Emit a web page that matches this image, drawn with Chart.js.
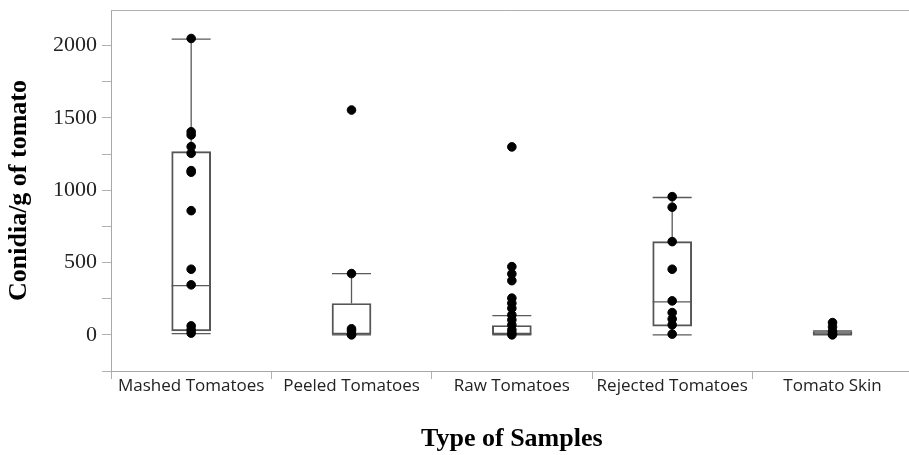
<!DOCTYPE html>
<html>
<head>
<meta charset="utf-8">
<script src="https://cdn.jsdelivr.net/npm/chart.js@4.4.1/dist/chart.umd.min.js"></script>
<style>
  html, body { margin: 0; padding: 0; background: #fff; overflow: hidden; }
  #wrap { width: 918px; height: 455px; }
</style>
</head>
<body>
<div id="wrap"><canvas id="boxChart"></canvas></div>
<script>
// categories and box summaries
const categories = ["Mashed Tomatoes", "Peeled Tomatoes", "Raw Tomatoes", "Rejected Tomatoes", "Tomato Skin"];
const whiskerLow  = [9, 0, 0, 0, 0];
const quartile1   = [28, 0, 0, 60, 0];
const medians     = [341, 0, 8, 228, 4];
const quartile3   = [1267, 217, 65, 645, 23];
const whiskerHigh = [2045, 424, 133, 950, 28];

// individual samples
const mashedPoints   = [2050, 1405, 1383, 1302, 1256, 1136, 1125, 859, 454, 346, 62, 35, 12];
const peeledPoints   = [1555, 424, 42, 28, 5, 0];
const rawPoints      = [1300, 472, 422, 375, 254, 219, 184, 138, 104, 69, 35, 12, 0];
const rejectedPoints = [956, 883, 645, 454, 235, 154, 110, 69, 5];
const skinPoints     = [85, 55, 25, 5, 0];

// axis ticks
const yTickValues = [-250, 0, 250, 500, 750, 1000, 1250, 1500, 1750, 2000];
const yTickLabels = [0, 500, 1000, 1500, 2000];

const pointGroups = [mashedPoints, peeledPoints, rawPoints, rejectedPoints, skinPoints];
const scatterData = [];
pointGroups.forEach((group, i) => {
    group.forEach(v => scatterData.push({ x: categories[i], y: v }));
});

const boxRanges = categories.map((c, i) => [quartile1[i], quartile3[i]]);

const whiskerPlugin = {
    id: "whiskers",
    beforeDatasetsDraw(chart) {
        const ctx = chart.ctx;
        const y = chart.scales.y;
        const meta = chart.getDatasetMeta(0);
        ctx.save();
        ctx.strokeStyle = "#5a5a5a";
        ctx.lineWidth = 1.3;
        meta.data.forEach((bar, i) => {
            const cx = bar.x;
            const half = bar.width / 2;
            const yLow = y.getPixelForValue(whiskerLow[i]);
            const yHigh = y.getPixelForValue(whiskerHigh[i]);
            const yQ1 = y.getPixelForValue(quartile1[i]);
            const yQ3 = y.getPixelForValue(quartile3[i]);
            const yMed = y.getPixelForValue(medians[i]);
            ctx.beginPath();
            ctx.moveTo(cx, yQ3); ctx.lineTo(cx, yHigh);
            ctx.moveTo(cx, yQ1); ctx.lineTo(cx, yLow);
            ctx.moveTo(cx - half, yHigh); ctx.lineTo(cx + half, yHigh);
            ctx.moveTo(cx - half, yLow); ctx.lineTo(cx + half, yLow);
            ctx.moveTo(cx - half, yMed); ctx.lineTo(cx + half, yMed);
            ctx.stroke();
        });
        ctx.restore();
    },
    afterDraw(chart) {
        const { ctx, chartArea } = chart;
        ctx.save();
        ctx.strokeStyle = "#b0b0b0";
        ctx.lineWidth = 1;
        ctx.beginPath();
        ctx.moveTo(chartArea.left, chartArea.top + 0.5);
        ctx.lineTo(chartArea.right, chartArea.top + 0.5);
        ctx.lineTo(chartArea.right, chartArea.bottom);
        ctx.stroke();
        ctx.restore();
    }
};

const ctx = document.getElementById("boxChart").getContext("2d");
new Chart(ctx, {
    type: "bar",
    data: {
        labels: categories,
        datasets: [
            {
                label: "box",
                data: boxRanges,
                backgroundColor: "rgba(0,0,0,0)",
                borderColor: "#555555",
                borderWidth: 1.3,
                borderSkipped: false,
                barThickness: 39,
                order: 2
            },
            {
                type: "scatter",
                label: "samples",
                data: scatterData,
                backgroundColor: "#000",
                borderColor: "#000",
                pointRadius: 4.3,
                order: 1
            }
        ]
    },
    options: {
        responsive: true,
        maintainAspectRatio: false,
        animation: false,
        layout: { padding: { top: 10, right: 2, left: 0, bottom: 0 } },
        plugins: { legend: { display: false }, tooltip: { enabled: false } },
        scales: {
            x: {
                type: "category",
                offset: true,
                grid: { display: true, drawOnChartArea: false, offset: true, tickLength: 8, color: "#b0b0b0" },
                border: { color: "#a8a8a8" },
                ticks: {
                    color: "#222",
                    padding: -3,
                    maxRotation: 0,
                    autoSkip: false,
                    font: { family: "'Open Sans', sans-serif", size: 17 }
                },
                title: {
                    display: true,
                    text: "Type of Samples",
                    color: "#000",
                    padding: { top: 0, bottom: 0 },
                    font: { family: "'Liberation Serif', serif", size: 26, weight: "bold" }
                },
                afterFit(scale) { scale.height = 84; scale.paddingLeft = 0; scale.paddingRight = 0; }
            },
            y: {
                min: -250,
                max: 2247,
                afterBuildTicks(scale) {
                    scale.ticks = yTickValues.map(v => ({ value: v }));
                },
                grid: { display: true, drawOnChartArea: false, tickLength: 9, color: "#b0b0b0" },
                border: { color: "#a8a8a8" },
                ticks: {
                    color: "#222",
                    padding: 5,
                    font: { family: "'Liberation Serif', serif", size: 22 },
                    callback: (v) => yTickLabels.includes(v) ? String(v) : ""
                },
                title: {
                    display: true,
                    text: "Conidia/g of tomato",
                    color: "#000",
                    padding: { top: 4, bottom: 0 },
                    font: { family: "'Liberation Serif', serif", size: 26, weight: "bold" }
                },
                afterFit(scale) { scale.width = 111; scale.paddingTop = 0; scale.paddingBottom = 0; }
            }
        }
    },
    plugins: [whiskerPlugin]
});
</script>
</body>
</html>
